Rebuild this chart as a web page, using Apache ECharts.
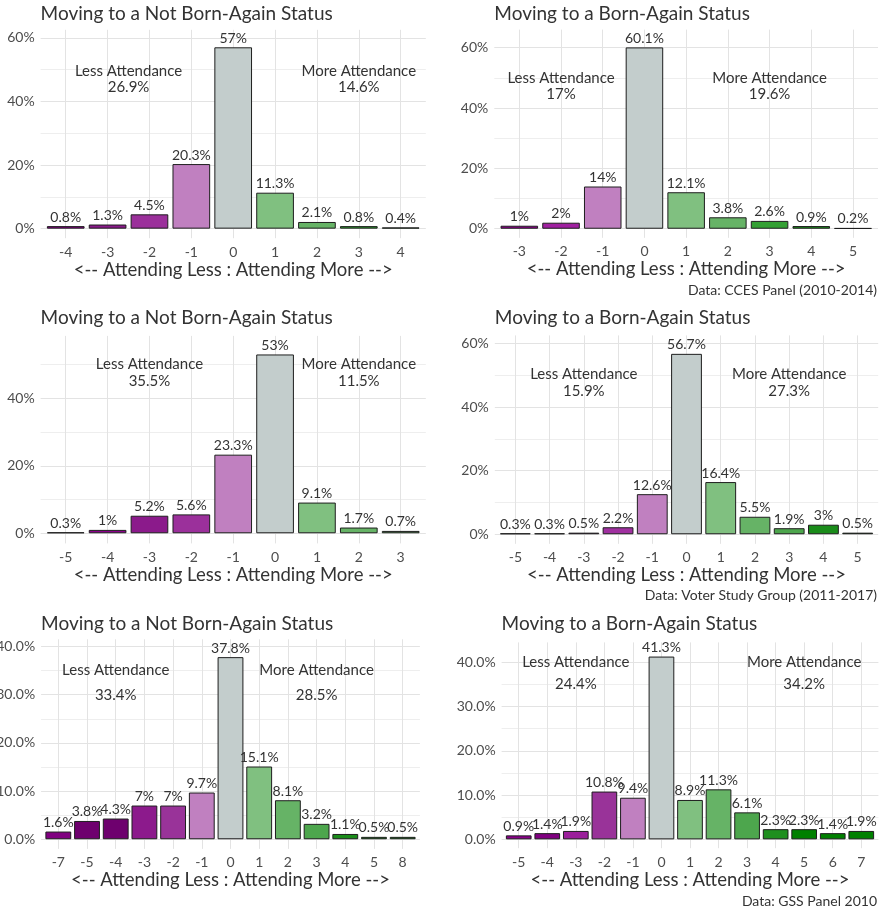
<!DOCTYPE html>
<html>
<head>
<meta charset="utf-8">
<script src="https://cdn.jsdelivr.net/npm/echarts@6/dist/echarts.min.js"></script>
<style>
  html, body { margin: 0; padding: 0; background: #ffffff; }
  #chart { width: 884px; height: 911px; }
</style>
</head>
<body>
<div id="chart"></div>
<script>
// ---- Data: change in attendance, share of respondents (%) ----
const ccesNotCats = ['-4', '-3', '-2', '-1', '0', '1', '2', '3', '4'];
const ccesNotVals = [0.8, 1.3, 4.5, 20.3, 57, 11.3, 2.1, 0.8, 0.4];

const ccesBornCats = ['-3', '-2', '-1', '0', '1', '2', '3', '4', '5'];
const ccesBornVals = [1, 2, 14, 60.1, 12.1, 3.8, 2.6, 0.9, 0.2];

const vsgNotCats = ['-5', '-4', '-3', '-2', '-1', '0', '1', '2', '3'];
const vsgNotVals = [0.3, 1, 5.2, 5.6, 23.3, 53, 9.1, 1.7, 0.7];

const vsgBornCats = ['-5', '-4', '-3', '-2', '-1', '0', '1', '2', '3', '4', '5'];
const vsgBornVals = [0.3, 0.3, 0.5, 2.2, 12.6, 56.7, 16.4, 5.5, 1.9, 3, 0.5];

const gssNotCats = ['-7', '-5', '-4', '-3', '-2', '-1', '0', '1', '2', '3', '4', '5', '8'];
const gssNotVals = [1.6, 3.8, 4.3, 7, 7, 9.7, 37.8, 15.1, 8.1, 3.2, 1.1, 0.5, 0.5];

const gssBornCats = ['-5', '-4', '-3', '-2', '-1', '0', '1', '2', '3', '4', '5', '6', '7'];
const gssBornVals = [0.9, 1.4, 1.9, 10.8, 9.4, 41.3, 8.9, 11.3, 6.1, 2.3, 2.3, 1.4, 1.9];

const panelTitles = [
  'Moving to a Not Born-Again Status', 'Moving to a Born-Again Status',
  'Moving to a Not Born-Again Status', 'Moving to a Born-Again Status',
  'Moving to a Not Born-Again Status', 'Moving to a Born-Again Status'
];
const lessShare = ['26.9%', '17%', '35.5%', '15.9%', '33.4%', '24.4%'];
const moreShare = ['14.6%', '19.6%', '11.5%', '27.3%', '28.5%', '34.2%'];
const captions = ['Data: CCES Panel (2010-2014)', 'Data: Voter Study Group (2011-2017)', 'Data: GSS Panel 2010'];
const xTitle = '<-- Attending Less : Attending More -->';

// ---- Fill colours per bar ----
const GRAY = '#c3cdcc';
const fillsA = ['#8b008b', '#8b1a8b', '#9b309b', '#c080c0', GRAY, '#80c080', '#66b366', '#2e9e2e', '#138913'];
const fillsB = ['#8b008b', '#a020a0', '#c080c0', GRAY, '#80c080', '#66b366', '#33a033', '#1a8c1a', '#008000'];
const fillsC = ['#6b006b', '#8b008b', '#8b1a8b', '#9b309b', '#c080c0', GRAY, '#80c080', '#66b366', '#4da64d'];
const fillsD = ['#6b006b', '#6b006b', '#6e0b6e', '#a030a0', '#c080c0', GRAY, '#80c080', '#66b366', '#4da64d', '#1a8c1a', '#006400'];
const fillsE = ['#800080', '#6e006e', '#6e006e', '#8c1a8c', '#993399', '#c080c0', GRAY, '#80c080', '#66b366', '#4da64d', '#1a8c1a', '#008000', '#008000'];
const fillsF = ['#8b008b', '#800080', '#9b1f9b', '#993399', '#c080c0', GRAY, '#80c080', '#66b366', '#4da64d', '#1f8f1f', '#008000', '#008000', '#008000'];

const panelsData = [
  { cats: ccesNotCats, vals: ccesNotVals, fills: fillsA },
  { cats: ccesBornCats, vals: ccesBornVals, fills: fillsB },
  { cats: vsgNotCats, vals: vsgNotVals, fills: fillsC },
  { cats: vsgBornCats, vals: vsgBornVals, fills: fillsD },
  { cats: gssNotCats, vals: gssNotVals, fills: fillsE },
  { cats: gssBornCats, vals: gssBornVals, fills: fillsF }
];

// ---- Layout of each panel (pixels) and axis settings ----
const layout = [
  { left: 40.6, right: 425.8, top: 29.8, bottom: 238.2, yMin: -3, yMax: 62.5, major: 20, minor: 10, dec: 0, titleTop: 4, capTop: null, lessX: 1.5, moreX: 7, annY: [49.6, 44.4] },
  { left: 494.3, right: 878, top: 29.6, bottom: 237.8, yMin: -3, yMax: 66, major: 20, minor: 10, dec: 0, titleTop: 4, capTop: 283, lessX: 1, moreX: 6, annY: [49.85, 44.6] },
  { left: 40.6, right: 425.8, top: 335.9, bottom: 543.4, yMin: -3, yMax: 58.5, major: 20, minor: 10, dec: 0, titleTop: 308.5, capTop: null, lessX: 2, moreX: 7, annY: [50.2, 45.1] },
  { left: 494.8, right: 878.2, top: 335.4, bottom: 543.8, yMin: -3, yMax: 62.5, major: 20, minor: 10, dec: 0, titleTop: 308.5, capTop: 588, lessX: 2, moreX: 8, annY: [50.4, 45.1] },
  { left: 41.1, right: 419.9, top: 639.3, bottom: 848.9, yMin: -2, yMax: 41.5, major: 10, minor: 5, dec: 1, titleTop: 614, capTop: null, lessX: 2, moreX: 9, annY: [35, 30] },
  { left: 501.6, right: 878.4, top: 642.4, bottom: 848.2, yMin: -2, yMax: 44.5, major: 10, minor: 5, dec: 1, titleTop: 614, capTop: 894.5, lessX: 2, moreX: 10, annY: [40, 35] }
];

const FONT = 'Lato, "Noto Sans", sans-serif';
const MAJOR_GRID = '#e3e3e3';
const MINOR_GRID = '#eeeeee';
const Y_STEP = 0.5;
const X_STEP = 0.2;
const X_PAD = 0.6;

function mod(a, m) { return ((a % m) + m) % m; }
function near(a, b) { return Math.abs(a - b) < 1e-6; }

// Grid-line colours cycle with the tick index so only major/minor values get a visible line
function yLineColors(min, major, minor) {
  const period = Math.round(major / Y_STEP);
  const out = [];
  for (let k = 0; k < period; k++) {
    const v = Math.round((min + k * Y_STEP) * 1000) / 1000;
    const rm = mod(v, major), rn = mod(v, minor);
    if (near(rm, 0) || near(rm, major)) out.push(MAJOR_GRID);
    else if (near(rn, 0) || near(rn, minor)) out.push(MINOR_GRID);
    else out.push('rgba(0,0,0,0)');
  }
  return out;
}
function xLineColors() {
  const period = Math.round(1 / X_STEP);
  const out = [];
  for (let k = 0; k < period; k++) {
    const v = Math.round((-X_PAD + k * X_STEP) * 1000) / 1000;
    out.push(near(v, Math.round(v)) ? MAJOR_GRID : 'rgba(0,0,0,0)');
  }
  return out;
}

const option = {
  animation: false,
  backgroundColor: '#ffffff',
  textStyle: { fontFamily: FONT },
  title: [],
  grid: [],
  xAxis: [],
  yAxis: [],
  series: []
};

panelsData.forEach((p, i) => {
  const L = layout[i];
  const n = p.cats.length;
  const width = L.right - L.left;
  const unitPx = width / (n - 1 + 2 * X_PAD);

  option.title.push({
    text: panelTitles[i], left: L.left, top: L.titleTop, padding: 0,
    textStyle: { fontFamily: FONT, fontSize: 19, fontWeight: 'normal', color: '#333333' }
  });
  if (L.capTop !== null) {
    option.title.push({
      text: captions[(i - 1) / 2], right: 7, top: L.capTop, padding: 0,
      textStyle: { fontFamily: FONT, fontSize: 14, fontWeight: 'normal', color: '#333333' }
    });
  }

  option.grid.push({
    left: L.left, top: L.top, width: width, height: L.bottom - L.top,
    containLabel: false, outerBoundsMode: 'none'
  });

  option.xAxis.push({
    type: 'value', gridIndex: i,
    min: -X_PAD, max: n - 1 + X_PAD, interval: X_STEP,
    axisLine: { show: false, onZero: false }, axisTick: { show: false },
    splitLine: { show: true, lineStyle: { color: xLineColors(), width: 1 } },
    axisLabel: {
      margin: 7, fontSize: 14, color: '#4d4d4d', fontFamily: FONT,
      showMinLabel: false, showMaxLabel: false,
      formatter: (v) => {
        const r = Math.round(v);
        if (near(v, r) && r >= 0 && r < n) return p.cats[r];
        return '';
      }
    },
    name: xTitle, nameLocation: 'middle', nameGap: 22,
    nameTextStyle: { fontSize: 18.5, color: '#333333', fontFamily: FONT }
  });

  option.yAxis.push({
    type: 'value', gridIndex: i,
    min: L.yMin, max: L.yMax, interval: Y_STEP,
    axisLine: { show: false, onZero: false }, axisTick: { show: false },
    splitLine: { show: true, lineStyle: { color: yLineColors(L.yMin, L.major, L.minor), width: 1 } },
    axisLabel: {
      margin: 6, fontSize: 14, color: '#4d4d4d', fontFamily: FONT,
      formatter: (v) => {
        const r = Math.round(v * 100) / 100;
        if (r >= 0 && near(mod(r, L.major), 0)) return L.dec ? r.toFixed(1) + '%' : r + '%';
        return '';
      }
    }
  });

  option.series.push({
    type: 'bar', xAxisIndex: i, yAxisIndex: i,
    barWidth: unitPx * 0.9,
    data: p.vals.map((v, k) => ({
      value: [k, v],
      itemStyle: { color: p.fills[k], borderColor: '#1e1e1e', borderWidth: 1 }
    })),
    label: {
      show: true, position: 'top', distance: 2,
      fontSize: 14, color: '#333333', fontFamily: FONT,
      formatter: (prm) => prm.value[1] + '%'
    },
    markPoint: {
      symbol: 'circle', symbolSize: 0, silent: true,
      label: { show: true, position: 'inside', fontSize: 15, color: '#333333', fontFamily: FONT },
      data: [
        { coord: [L.lessX, L.annY[0]], label: { formatter: 'Less Attendance' } },
        { coord: [L.lessX, L.annY[1]], label: { formatter: lessShare[i] } },
        { coord: [L.moreX, L.annY[0]], label: { formatter: 'More Attendance' } },
        { coord: [L.moreX, L.annY[1]], label: { formatter: moreShare[i] } }
      ]
    }
  });
});

const chart = echarts.init(document.getElementById('chart'), null, { renderer: 'canvas' });
chart.setOption(option);
</script>
</body>
</html>
